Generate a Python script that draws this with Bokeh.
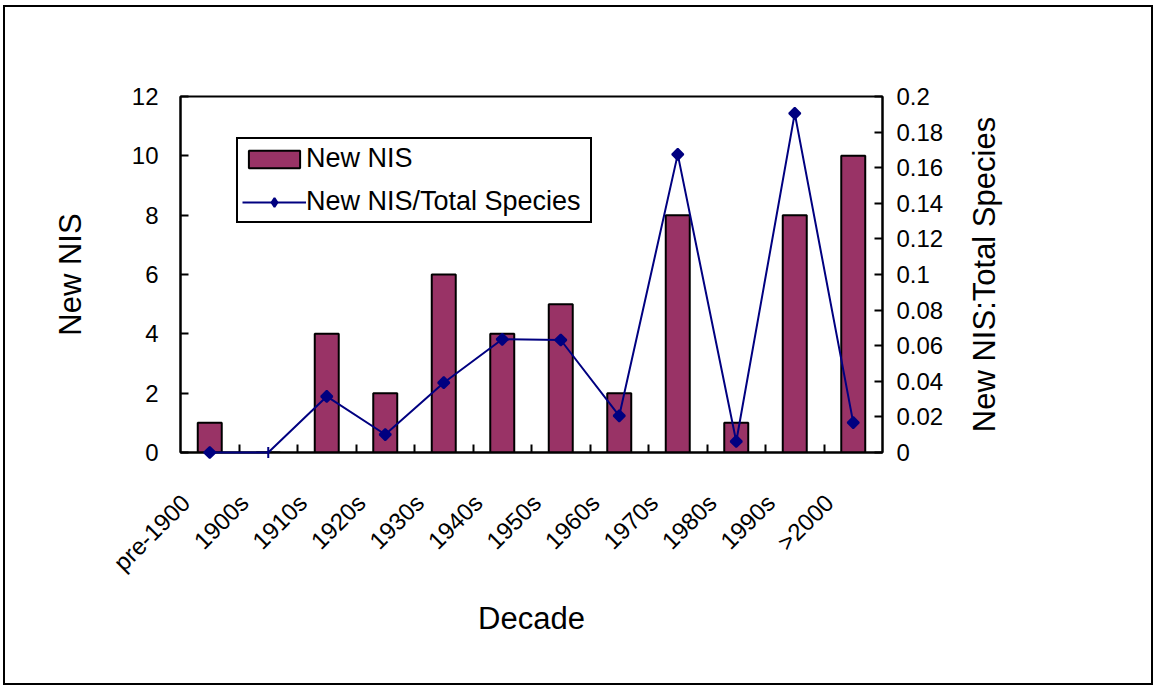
import math
from bokeh.plotting import figure
from bokeh.models import (Range1d, LinearAxis, FixedTicker, ColumnDataSource,
                          Legend, LegendItem, Row)
from bokeh.core.properties import value
from bokeh.embed import file_html
from bokeh.resources import INLINE

# ---- data ----
decades = ["pre-1900", "1900s", "1910s", "1920s", "1930s", "1940s",
           "1950s", "1960s", "1970s", "1980s", "1990s", ">2000"]
new_nis = [1, 0, 4, 2, 6, 4, 5, 2, 8, 1, 8, 10]
nis_ratio = [0.0, 0.0, 0.0315, 0.0101, 0.0392, 0.0636, 0.0632, 0.0206,
             0.1675, 0.0062, 0.1905, 0.0168]
left_ticks = [0, 2, 4, 6, 8, 10, 12]
right_ticks = [0, 0.02, 0.04, 0.06, 0.08, 0.1, 0.12, 0.14, 0.16, 0.18, 0.2]
right_tick_labels = ["0", "0.02", "0.04", "0.06", "0.08", "0.1", "0.12",
                     "0.14", "0.16", "0.18", "0.2"]
right_title = "New NIS:Total Species"

# ---- styles ----
BAR_COLOR = "#993366"
LINE_COLOR = "#000080"
FONT = "Liberation Sans"
point_markers = ["square", "dash"] + ["square"] * 10
point_angles = [math.pi / 4, math.pi / 2] + [math.pi / 4] * 10
point_sizes = [8, 11] + [8] * 10
LABEL_SHIFT = 0.41   # offset of the slanted category labels (category units)

IW, IH = 1146, 676          # inside the outer border
P1W = 952                   # main figure width
ML, MT, FW, FH = 175, 89, 702, 356
MB = IH - MT - FH

n = len(decades)
xc = [i + 0.5 for i in range(n)]
src = ColumnDataSource(dict(x=xc, nis=new_nis, ratio=nis_ratio,
                            marker=point_markers, angle=point_angles,
                            msize=point_sizes))

p = figure(width=P1W, height=IH, output_backend="svg", toolbar_location=None,
           x_range=Range1d(0, n), y_range=Range1d(0, 12),
           min_border_left=ML, min_border_right=P1W - ML - FW,
           min_border_top=MT, min_border_bottom=MB)
p.extra_y_ranges = {"ratio": Range1d(0, 0.2)}
p.grid.visible = False
p.outline_line_color = "black"
p.outline_line_width = 2
p.outline_line_alpha = 1

# x axis
xa = p.xaxis[0]
label_pos = [x - LABEL_SHIFT for x in xc]
xa.ticker = FixedTicker(ticks=label_pos, minor_ticks=list(range(1, n)))
xa.major_label_overrides = {x: d for x, d in zip(label_pos, decades)}
xa.major_label_orientation = math.pi / 4
xa.major_tick_in = 0
xa.major_tick_out = 0
xa.minor_tick_in = 8
xa.minor_tick_out = 0
xa.minor_tick_line_width = 2
xa.minor_tick_line_color = "black"
xa.axis_label = "Decade"
xa.major_label_standoff = 46
xa.axis_label_standoff = 12

# left axis
ya = p.yaxis[0]
ya.ticker = FixedTicker(ticks=left_ticks)
ya.major_tick_in = 8
ya.major_tick_out = 0
ya.minor_tick_line_color = None
ya.axis_label = "New NIS"
ya.major_label_standoff = 22
ya.axis_label_standoff = 41

# right axis (ticks and labels)
ra = LinearAxis(y_range_name="ratio", ticker=FixedTicker(ticks=right_ticks))
ra.major_label_overrides = {t: s for t, s in zip(right_ticks, right_tick_labels)}
ra.major_tick_in = 8
ra.major_tick_out = 0
ra.minor_tick_line_color = None
ra.major_label_standoff = 14
p.add_layout(ra, "right")

for ax in (xa, ya, ra):
    ax.axis_line_color = "black"
    ax.axis_line_width = 2
    ax.major_tick_line_color = "black"
    ax.major_tick_line_width = 2
    ax.major_label_text_font = FONT
    ax.major_label_text_font_size = "24px"
    ax.major_label_text_color = "black"
    ax.axis_label_text_font = FONT
    ax.axis_label_text_font_size = "31px"
    ax.axis_label_text_font_style = "normal"
    ax.axis_label_text_color = "black"

bars = p.vbar(x="x", top="nis", width=0.41, source=src,
              fill_color=BAR_COLOR, line_color="black", line_width=2)
line = p.line(x="x", y="ratio", source=src, y_range_name="ratio",
              line_color=LINE_COLOR, line_width=2, level="overlay")
pts = p.scatter(x="x", y="ratio", source=src, y_range_name="ratio",
                marker="marker", angle="angle", size="msize",
                fill_color=LINE_COLOR, line_color=LINE_COLOR, line_width=2,
                level="overlay")
# diamond used only for the legend swatch (tiny, hidden under the markers)
key = p.scatter(x="x", y="ratio", source=src, y_range_name="ratio",
                marker=value("diamond"), size=1,
                fill_color=LINE_COLOR, line_color=LINE_COLOR, line_width=2)

legend = Legend(items=[LegendItem(label="New NIS", renderers=[bars]),
                       LegendItem(label="New NIS/Total Species",
                                  renderers=[line, key])],
                location=(56, 229))
legend.border_line_color = "black"
legend.border_line_width = 2
legend.border_line_alpha = 1
legend.background_fill_color = "white"
legend.background_fill_alpha = 1
legend.label_text_font = FONT
legend.label_text_font_size = "27px"
legend.label_text_color = "black"
legend.glyph_width = 64
legend.glyph_height = 22
legend.label_height = 30
legend.label_width = 280
legend.spacing = 12
legend.padding = 4
legend.margin = 0
legend.label_standoff = 0
p.add_layout(legend, "center")

# narrow companion figure carrying the upward-reading right-hand title
p2 = figure(width=IW - P1W, height=IH, output_backend="svg",
            toolbar_location=None, x_axis_type=None,
            x_range=Range1d(0, 1), y_range=Range1d(0, 1),
            min_border_left=60, min_border_right=0,
            min_border_top=MT, min_border_bottom=MB)
p2.grid.visible = False
p2.outline_line_color = None
t = p2.yaxis[0]
t.ticker = FixedTicker(ticks=[])
t.axis_line_color = None
t.major_tick_line_color = None
t.minor_tick_line_color = None
t.major_tick_out = 0
t.major_label_standoff = 0
t.axis_label = right_title
t.axis_label_standoff = 16
t.axis_label_text_font = FONT
t.axis_label_text_font_size = "31px"
t.axis_label_text_font_style = "normal"
t.axis_label_text_color = "black"

layout = Row(children=[p, p2], width=IW + 4, height=IH + 4, spacing=0,
             styles={"border": "2px solid black", "margin-left": "3px",
                     "margin-top": "5px"})

open("out.html", "w").write(file_html(layout, INLINE))
